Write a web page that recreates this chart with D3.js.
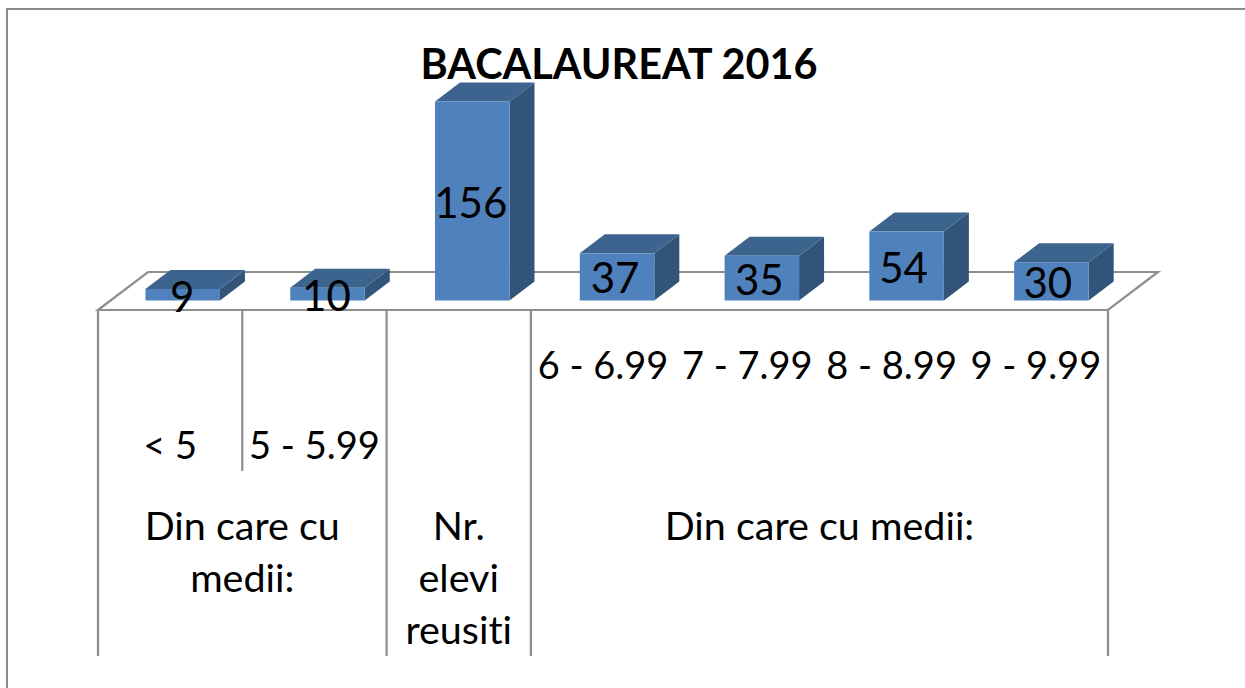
<!DOCTYPE html>
<html>
<head>
<meta charset="utf-8">
<script src="https://cdn.jsdelivr.net/npm/d3@7/dist/d3.min.js"></script>
<style>
    html, body { margin: 0; padding: 0; background: #fff; }
    svg { display: block; }
    text { font-family: Lato, "Open Sans", sans-serif; fill: #000; font-variant-ligatures: none; }
</style>
</head>
<body>
<div id="chart"></div>
<script>
// Values
const categories = ["< 5", "5 - 5.99", "Nr. elevi reusiti", "6 - 6.99", "7 - 7.99", "8 - 8.99", "9 - 9.99"];
const values = [9, 10, 156, 37, 35, 54, 30];

// Second level of the category axis: [first category, last category, label lines]
const groupLabels = [
    { from: 0, to: 1, lines: ["Din care cu", "medii:"] },
    { from: 2, to: 2, lines: ["Nr.", "elevi", "reusiti"] },
    { from: 3, to: 6, lines: ["Din care cu medii:"] }
];
const chartTitle = "BACALAUREAT 2016";

const width = 1245;
const height = 688;

const svg = d3.select("#chart")
    .append("svg")
    .attr("width", width)
    .attr("height", height)
    .attr("viewBox", [0, 0, width, height]);

// Outer frame of the chart
svg.append("path")
    .attr("d", `M7,688V9H1245`)
    .attr("fill", "none")
    .attr("stroke", "#8c8c8c")
    .attr("stroke-width", 2);

const x = d3.scaleBand().domain(d3.range(categories.length)).range([98, 1108]);
// Bars sit on the 3D floor, so their spacing is a little wider than the axis
const xBar = d3.scaleBand().domain(d3.range(categories.length)).range([110.3, 1123.8]);
const y = d3.scaleLinear().domain([0, 156]).range([300.5, 101.5]);

// Perspective offset of the 3D view
const depthX = 25;
const depthY = -19;
const barWidth = 74.5;
const labelShift = 12;
const floorY = 310;
const floorBackY = floorY + 2 * depthY;
const floorBackX = 50;

const axisColor = "#8e8e8e";

// Floor of the 3D plot
svg.append("path")
    .attr("d", `M${x.range()[0]},${floorY}L${x.range()[0] + floorBackX},${floorBackY}H${x.range()[1] + floorBackX}L${x.range()[1]},${floorY}Z`)
    .attr("fill", "#fff")
    .attr("stroke", axisColor)
    .attr("stroke-width", 2.2);

// Category dividers, lower ends depend on the level they close
const dividers = [
    { at: 0, end: 656 },
    { at: 1, end: 471 },
    { at: 2, end: 656 },
    { at: 3, end: 656 },
    { at: 7, end: 656 }
];
svg.append("g")
    .selectAll("line")
    .data(dividers)
    .join("line")
    .attr("x1", d => x.range()[0] + d.at * x.step())
    .attr("x2", d => x.range()[0] + d.at * x.step())
    .attr("y1", floorY)
    .attr("y2", d => d.end)
    .attr("stroke", axisColor)
    .attr("stroke-width", 2.2);

// Bars: side, top and front faces
const bars = svg.append("g")
    .selectAll("g")
    .data(values)
    .join("g")
    .attr("transform", (d, i) => `translate(${xBar(i) + xBar.bandwidth() / 2 - barWidth / 2},0)`);

bars.append("path")
    .attr("fill", "#335479")
    .attr("d", d => `M${barWidth},${y(d)}l${depthX},${depthY}V${y(0) + depthY}L${barWidth},${y(0)}Z`);

bars.append("path")
    .attr("fill", "#3d638f")
    .attr("d", d => `M0,${y(d)}l${depthX},${depthY}h${barWidth}l${-depthX},${-depthY}Z`);

bars.append("rect")
    .attr("fill", "#4f81bd")
    .attr("y", d => y(d))
    .attr("width", barWidth)
    .attr("height", d => y(0) - y(d));

// Data labels
const labelBaseline = [312, 311, 218, 293, 295, 283, 298];
svg.append("g")
    .selectAll("text")
    .data(values)
    .join("text")
    .attr("x", (d, i) => x(i) + x.bandwidth() / 2 + labelShift)
    .attr("y", (d, i) => labelBaseline[i])
    .attr("text-anchor", "middle")
    .attr("font-size", 42)
    .text(d => d);

// Category labels, first level
const categoryY = [459, 459, null, 378.5, 378.5, 378.5, 378.5];
svg.append("g")
    .selectAll("text")
    .data(categories.map((c, i) => ({ c, i })).filter(d => categoryY[d.i] !== null))
    .join("text")
    .attr("x", d => x(d.i) + x.bandwidth() / 2)
    .attr("y", d => categoryY[d.i])
    .attr("text-anchor", "middle")
    .attr("font-size", 38)
    .text(d => d.c);

// Category labels, second level
const groups = svg.append("g")
    .selectAll("text")
    .data(groupLabels)
    .join("text")
    .attr("text-anchor", "middle")
    .attr("font-size", 39.5)
    .attr("transform", d => `translate(${(x(d.from) + x(d.to) + x.bandwidth()) / 2},539.5)`);

groups.selectAll("tspan")
    .data(d => d.lines)
    .join("tspan")
    .attr("x", 0)
    .attr("y", (d, i) => i * 52.2)
    .text(d => d);

// Title
svg.append("text")
    .attr("x", 619)
    .attr("y", 78.5)
    .attr("text-anchor", "middle")
    .attr("font-size", 41.4)
    .attr("font-weight", 700)
    .text(chartTitle);
</script>
</body>
</html>
